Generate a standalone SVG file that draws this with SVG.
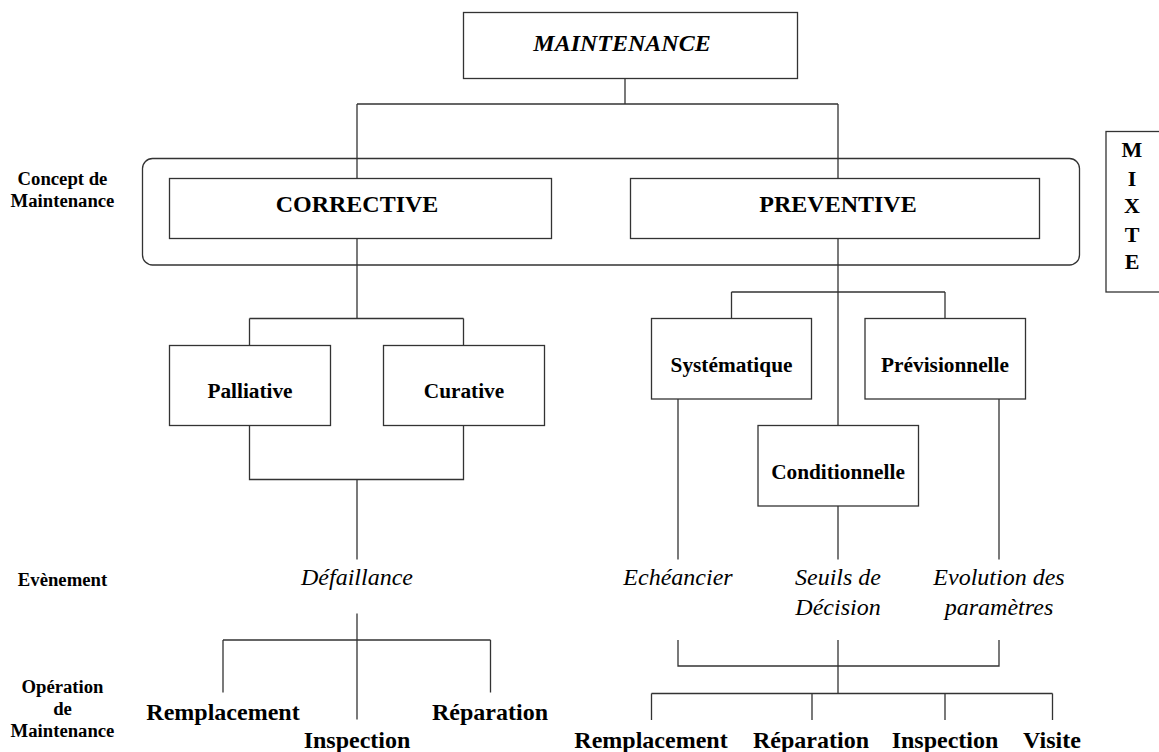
<svg xmlns="http://www.w3.org/2000/svg" width="1159" height="752" viewBox="0 0 1159 752">
<style>
.box{fill:#fff;stroke:#333;stroke-width:1.3}
.ln{fill:none;stroke:#333;stroke-width:1.3}
text{font-family:"Liberation Serif","Times New Roman",serif;fill:#000;text-anchor:middle}
.big{font-size:24px;font-weight:bold}
.mid{font-size:21.3px;font-weight:bold}
.lab{font-size:18.7px;font-weight:bold}
.ev{font-size:24px;font-style:italic}
.op{font-size:24px;font-weight:bold}
</style>
<rect width="1159" height="752" fill="#fff"/>
<g id="concept-frame"><rect class="box" x="142.5" y="158.5" width="937" height="106.5" rx="10"/></g>
<g id="connectors">
<path class="ln" d="M625,78.5 V104 M357,104 H838 M357,104 V178.5 M838,104 V178.5"/>
<path class="ln" d="M357,238.5 V318.5 M249.5,318.5 H463.5 M249.5,318.5 V345.5 M463.5,318.5 V345.5"/>
<path class="ln" d="M249.5,425.5 V479.5 H463.5 V425.5 M357,479.5 V559.5"/>
<path class="ln" d="M357,613.5 V719.5 M223,640 H490.5 M223,640 V692.5 M490.5,640 V692.5"/>
<path class="ln" d="M838,238.5 V425.5 M731.5,292 H945 M731.5,292 V318.5 M945,292 V318.5"/>
<path class="ln" d="M678,399 V559.5 M999,399 V559.5 M838,506 V559.5"/>
<path class="ln" d="M678,640 V666 H999 V640 M838,640 V693.5 M651.5,693.5 H1052.5 M651.5,693.5 V720 M812,693.5 V720 M945,693.5 V720 M1052.5,693.5 V720"/>
</g>
<g id="maintenance"><rect class="box" x="463.5" y="12.5" width="334" height="66"/><text class="big" x="622" y="51" font-style="italic">MAINTENANCE</text></g>
<g id="corrective"><rect class="box" x="169.5" y="178.5" width="382" height="60"/><text class="big" x="357" y="212">CORRECTIVE</text></g>
<g id="preventive"><rect class="box" x="630.5" y="178.5" width="409" height="60"/><text class="big" x="838" y="212">PREVENTIVE</text></g>
<g id="mixte"><rect class="box" x="1106" y="131.5" width="60" height="160.5"/>
<text class="lab" style="font-size:22px" x="1132" y="157">M</text>
<text class="lab" style="font-size:22px" x="1132" y="185.5">I</text>
<text class="lab" style="font-size:22px" x="1132" y="213">X</text>
<text class="lab" style="font-size:22px" x="1132" y="241.5">T</text>
<text class="lab" style="font-size:22px" x="1132" y="269">E</text></g>
<g id="palliative"><rect class="box" x="169.5" y="345.5" width="161" height="80"/><text class="mid" x="250" y="398">Palliative</text></g>
<g id="curative"><rect class="box" x="383.5" y="345.5" width="161" height="80"/><text class="mid" x="464" y="398">Curative</text></g>
<g id="systematique"><rect class="box" x="651.5" y="318.5" width="160" height="80.5"/><text class="mid" x="731.5" y="372">Systématique</text></g>
<g id="previsionnelle"><rect class="box" x="865" y="318.5" width="160.5" height="80.5"/><text class="mid" x="945" y="372">Prévisionnelle</text></g>
<g id="conditionnelle"><rect class="box" x="758" y="425.5" width="160.5" height="80.5"/><text class="mid" x="838" y="479">Conditionnelle</text></g>
<g id="labels">
<text class="lab" x="62.5" y="185">Concept de</text>
<text class="lab" x="62.5" y="207">Maintenance</text>
<text class="lab" x="62.5" y="586">Evènement</text>
<text class="lab" x="62.5" y="693">Opération</text>
<text class="lab" x="62.5" y="715">de</text>
<text class="lab" x="62.5" y="737">Maintenance</text>
</g>
<g id="events">
<text class="ev" x="357" y="585">Défaillance</text>
<text class="ev" x="678" y="585">Echéancier</text>
<text class="ev" x="838" y="585">Seuils de</text>
<text class="ev" x="838" y="615">Décision</text>
<text class="ev" x="999" y="585">Evolution des</text>
<text class="ev" x="999" y="615">paramètres</text>
</g>
<g id="operations">
<text class="op" x="223" y="720">Remplacement</text>
<text class="op" x="490" y="720">Réparation</text>
<text class="op" x="357" y="747.5">Inspection</text>
<text class="op" x="651" y="747.5">Remplacement</text>
<text class="op" x="811" y="747.5">Réparation</text>
<text class="op" x="945" y="747.5">Inspection</text>
<text class="op" x="1052" y="747.5">Visite</text>
</g>
</svg>
